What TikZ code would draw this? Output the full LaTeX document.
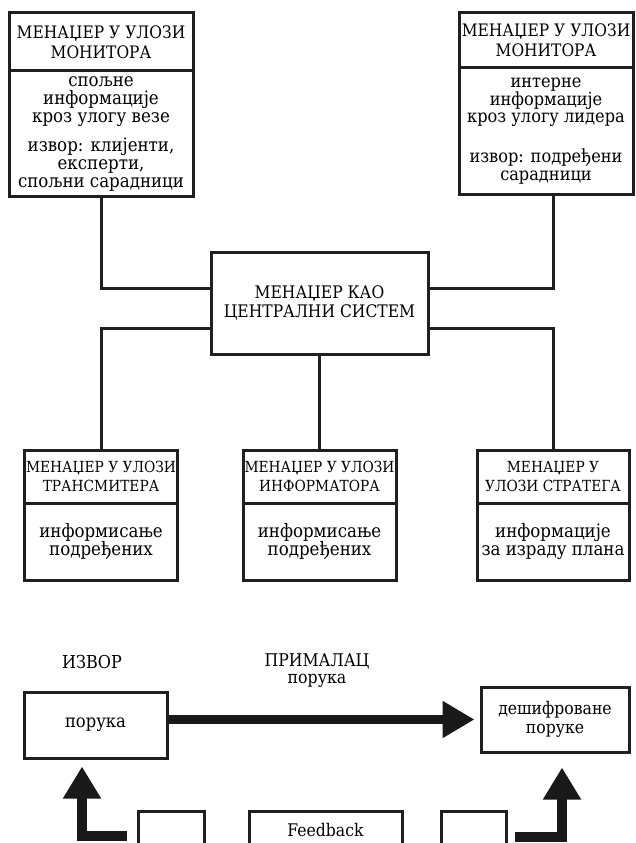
\documentclass[tikz,border=0pt]{standalone}
\usepackage{fontspec}
\setmainfont{DejaVu Serif Condensed}
\usetikzlibrary{arrows.meta,calc}
\begin{document}
\begin{tikzpicture}[x=1pt,y=-1pt,
  box/.style={draw=black!88, line width=3pt, align=center, inner sep=0pt, fill=white,
    font=\fontsize{18.5}{18}\selectfont},
  capbig/.style={font=\fontsize{17.2}{20}\selectfont},
  capsmall/.style={font=\fontsize{15.3}{19}\selectfont},
  lbl/.style={align=center, inner sep=0pt, font=\fontsize{17.8}{18}\selectfont},
  conn/.style={draw=black!88, line width=3pt},
  fat/.style={draw=black!90, line width=9pt, -{Triangle[length=32pt,width=35pt]}},
  fatup/.style={draw=black!90, line width=10pt, -{Triangle[length=32pt,width=36pt]}}]
\useasboundingbox (0,0) rectangle (635,843);
\clip (0,0) rectangle (635,843);

% top boxes
\node[box,capbig,minimum width=184pt,minimum height=58pt] (TL1) at (101,42) {МЕНАЏЕР У УЛОЗИ\\МОНИТОРА};
\node[box,minimum width=184pt,minimum height=125pt] (TL2) at (101,133.5)
  {спољне\\информације\\кроз улогу везе\\[11pt]извор: клијенти,\\експерти,\\спољни сарадници};
\node[box,capbig,minimum width=174pt,minimum height=55pt] (TR1) at (546,40.5) {МЕНАЏЕР У УЛОЗИ\\МОНИТОРА};
\node[box,font=\fontsize{18}{17.5}\selectfont,minimum width=174pt,minimum height=126pt] (TR2) at (546,131)
  {интерне\\информације\\кроз улогу лидера\\[21pt]извор: подређени\\сарадници};

% central box
\node[box,font=\fontsize{17.3}{19}\selectfont,minimum width=217pt,minimum height=102pt] (C) at (319.5,303) {МЕНАЏЕР КАО\\ЦЕНТРАЛНИ СИСТЕМ};

% bottom boxes
\node[box,capsmall,minimum width=153pt,minimum height=53pt] (B1h) at (101,476.5) {МЕНАЏЕР У УЛОЗИ\\ТРАНСМИТЕРА};
\node[box,minimum width=153pt,minimum height=77pt] (B1b) at (101,541.5) {информисање\\подређених};
\node[box,capsmall,minimum width=153pt,minimum height=53pt] (B2h) at (319.5,476.5) {МЕНАЏЕР У УЛОЗИ\\ИНФОРМАТОРА};
\node[box,minimum width=153pt,minimum height=77pt] (B2b) at (319.5,541.5) {информисање\\подређених};
\node[box,capsmall,minimum width=152pt,minimum height=53pt] (B3h) at (553,476.5) {МЕНАЏЕР У\\УЛОЗИ СТРАТЕГА};
\node[box,minimum width=152pt,minimum height=77pt] (B3b) at (553,541.5) {информације\\за израду плана};

% connectors
\coordinate (h1) at (0,288);
\coordinate (h2) at (0,328);
\draw[conn] (TL2.south) |- (C.west |- h1);
\draw[conn] (TR2.south -| B3h.north) |- (C.east |- h1);
\draw[conn] (C.west |- h2) -| (B1h.north);
\draw[conn] (C.east |- h2) -| (B3h.north);
\draw[conn] (C.south) -- (B2h.north);

% communication part
\node[lbl] (IZ) at (92,662) {ИЗВОР};
\node[lbl,font=\fontsize{17.5}{17}\selectfont] (PR) at (317,671) {ПРИМАЛАЦ\\порука};
\node[box,font=\fontsize{18.2}{18}\selectfont,minimum width=143pt,minimum height=66pt] (P) at (95.5,725) {порука};
\node[box,font=\fontsize{17.4}{19.5}\selectfont,minimum width=148pt,minimum height=65pt] (D) at (555,719.5) {дешифроване\\поруке};
\node[box,minimum width=66pt,minimum height=38pt] (SB1) at (171,830) {};
\node[box,font=\fontsize{17.4}{18}\selectfont,minimum width=153pt,minimum height=38pt] (FB) at (325.5,830) {Feedback};
\node[box,minimum width=65pt,minimum height=38pt] (SB3) at (473.5,830) {};

\draw[fat] (P.east |- D.west) -- ([xshift=-5pt]D.west);
\draw[fatup] ([xshift=-10pt,yshift=-6pt]SB1.west) -| ([xshift=-13.5pt,yshift=-7pt]P.south);
\draw[fatup] ([xshift=7pt,yshift=-7pt]SB3.east) -| ([xshift=7pt,yshift=-14pt]D.south);
\end{tikzpicture}
\end{document}
